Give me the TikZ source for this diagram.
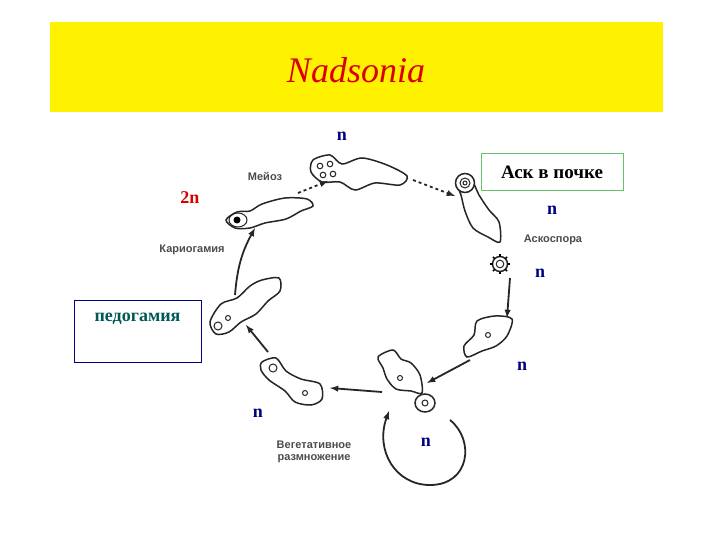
\documentclass[tikz,border=0pt]{standalone}
\usepackage{fontspec}
\setmainfont{Liberation Serif}
\newfontfamily\lsans{Liberation Sans}
\usetikzlibrary{calc}
\begin{document}
\begin{tikzpicture}[x=1pt,y=-1pt,
  cell/.style={draw=black!85,line width=1.5pt,fill=white},
  nuc/.style={draw=black!85,line width=1pt},
  arr/.style={-latex,line width=1.8pt,black!85},
  lab/.style={font=\lsans\fontsize{11}{12}\selectfont\bfseries,text=black!70,align=center},
  ploid/.style={font=\fontsize{18}{19}\selectfont\bfseries,text=blue!50!black}]
\useasboundingbox (0,0) rectangle (720,540);
\fill[white] (0,0) rectangle (720,540);
\fill[yellow] (50,22) rectangle (663,112);
\node (title) at (356,70) {\fontsize{36}{38}\selectfont\itshape\color{red!85!black}Nadsonia};
% cells
\draw[cell] plot[smooth cycle] coordinates {(313,160)(330,155)(342,164)(362,158)(387,165)(407,176)(400,185)(375,183)(355,190)(340,182)(322,182)(311,172)};
\foreach \p in {(320,166),(330,164),(323,175),(333,174)} \draw[nuc] \p circle (2.8);
\draw[cell] plot[smooth cycle] coordinates {(457,183)(471,180)(479,195)(489,210)(499,222)(500,242)(488,237)(473,228)(465,211)(461,195)};
\draw[cell] (465,183) circle (9.5); \draw[nuc] (465,183) circle (5); \draw[nuc] (465,183) circle (2);
\node[draw=green!60!black!60,line width=0.6pt,inner sep=3pt,minimum width=142pt,minimum height=37pt] (ask) at (552,172) {\fontsize{19}{20}\selectfont\bfseries Аск в почке};
\draw[cell] (500,264) circle (7.5); \draw[nuc] (500,264) circle (3.8);
\foreach \a in {0,45,...,315} \draw[line width=1.5pt] ($(500,264)+(\a:7.5)$) -- ($(500,264)+(\a:10)$);
\draw[cell] plot[smooth cycle] coordinates {(477,321)(495,316)(512,319)(507,336)(496,346)(482,351)(467,357)(464,346)(474,335)};
\draw[nuc] (488,335) circle (2.5);
\draw[cell] plot[smooth cycle] coordinates {(378,357)(393,350)(401,359)(411,363)(420,375)(422,393)(411,391)(396,389)(387,379)(383,368)};
\draw[nuc] (400,378) circle (2.5);
\draw[cell] (425,403) ellipse (10 and 9); \draw[nuc] (425,403) circle (3);
\draw[cell] plot[smooth cycle] coordinates {(262,362)(276,358)(286,371)(301,379)(320,384)(322,399)(311,405)(295,402)(285,391)(269,380)(261,370)};
\draw[nuc] (273,368) circle (4); \draw[nuc] (305,393) circle (2.5);
\draw[cell] plot[smooth cycle] coordinates {(210,322)(221,304)(237,298)(250,286)(262,280)(279,278)(280,291)(268,301)(256,314)(241,322)(229,332)(216,334)};
\draw[nuc] (218,326) circle (4); \draw[nuc] (228,318) circle (2.5);
\draw[cell] plot[smooth cycle] coordinates {(226,220)(237,212)(250,211)(262,204)(285,198)(307,199)(313,206)(301,211)(286,219)(265,223)(250,228)(235,228)};
\draw[nuc] (238,220) ellipse (9 and 7); \fill (237,220) circle (3.5);
% arrows
\draw[arr,dashed] (298,193) -- (328,181);
\draw[arr,dashed] (413,180) -- (455,196);
\draw[arr] (510,278) -- (507,318);
\draw[arr] (470,360) -- (427,383);
\draw[arr] (382,392) -- (330,388);
\draw[arr] (268,352) -- (246,325);
\draw[arr] (235,295) to[bend left=12] (255,228);
\draw[arr] (450,420) .. controls (475,440) and (470,485) .. (430,485) .. controls (395,485) and (375,450) .. (389,411);
% labels
\node[lab] (l1) at (265,176) {Мейоз};
\node[lab] (l2) at (192,250) {Кариогамия};
\node[lab] (l3) at (553,240) {Аскоспора};
\node[lab] (l4) at (314,452) {Вегетативное\\размножение};
\node[draw=blue!50!black,line width=0.6pt,minimum width=127pt,minimum height=62pt,text depth=28pt] (ped) at (137.5,331) {\fontsize{18}{19}\selectfont\bfseries\color{teal!70!black}педогамия};
\node[ploid] (n1) at (342,136) {n};
\node[ploid,text=red!85!black] (n2) at (190,198) {2n};
\node[ploid] (n3) at (552,210) {n};
\node[ploid] (n4) at (540,273) {n};
\node[ploid] (n5) at (522,366) {n};
\node[ploid] (n6) at (258,413) {n};
\node[ploid] (n7) at (426,442) {n};
\end{tikzpicture}
\end{document}
